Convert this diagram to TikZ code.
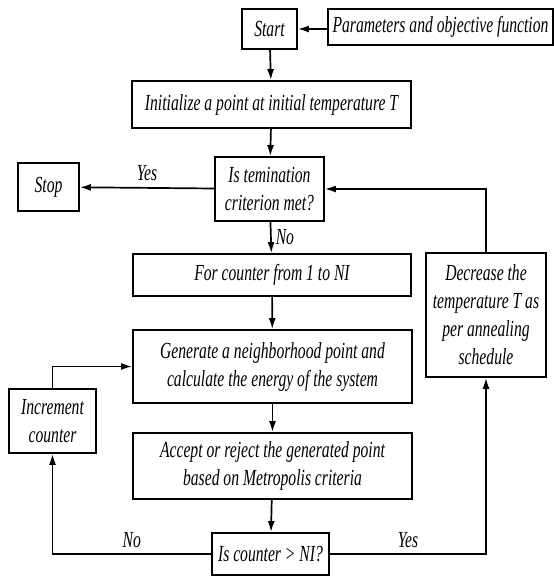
\documentclass[tikz,border=0pt]{standalone}
\usepackage{fontspec}
\setmainfont{Liberation Serif}[FakeStretch=0.68]
\usetikzlibrary{arrows.meta, positioning}

\begin{document}
\begin{tikzpicture}[x=1pt,y=1pt]
\tikzstyle{every node}+=[inner sep=0pt, font=\itshape\fontsize{23}{28}\selectfont]
\tikzstyle{block}=[draw, line width=1.7pt, align=center]
\tikzstyle{flow}=[line width=1.7pt, -{Latex[length=11pt,width=7pt]}]
\useasboundingbox (0,0) rectangle (554,-576);
% boxes
\node [block, minimum width=55, minimum height=40] (start) at (269.5,-29) {Start};
\node [block, minimum width=225, minimum height=36] (params) at (440.5,-27) {Parameters and objective function};
\node [block, minimum width=279, minimum height=47] (init) at (271.5,-104.5) {Initialize a point at initial temperature T};
\node [block, minimum width=109, minimum height=64] (term) at (269.5,-189) {Is temination\\criterion met?};
\node [block, minimum width=61, minimum height=48] (stop) at (48.5,-187) {Stop};
\node [block, minimum width=278, minimum height=42] (for) at (272,-275) {For counter from 1 to NI};
\node [block, minimum width=120, minimum height=124] (decrease) at (486,-315) {Decrease the\\temperature T as\\per annealing\\schedule};
\node [block, minimum width=279, minimum height=73] (gen) at (272.5,-366.5) {Generate a neighborhood point and\\calculate the energy of the system};
\node [block, minimum width=87, minimum height=64] (incr) at (52.5,-421) {Increment\\counter};
\node [block, minimum width=279, minimum height=66] (accept) at (272.5,-466) {Accept or reject the generated point\\based on Metropolis criteria};
\node [block, minimum width=117, minimum height=42] (check) at (270.5,-554) {Is counter > NI?};
% connectors
\draw [flow] (params.west |- start.east) -- (start.east);
\draw [flow] (start) -- (init);
\draw [flow] (init) -- (term);
\draw [flow] (term) -- node [above=6pt] (yes1) {Yes} (stop);
\draw [flow] (term) -- node [right=4pt] (no1) {No} (for);
\draw [flow] (for) -- (gen);
\draw [flow] (gen) -- (accept);
\draw [flow] (accept) -- (check);
\draw [flow] (check.west) -| node [pos=0.25, above=5pt] (no2) {No} (incr.south);
\draw [flow] (check.east) -| node [pos=0.25, above=5pt] (yes2) {Yes} (decrease.south);
\draw [flow] (incr.north) |- (gen.west);
\draw [flow] (decrease.north) |- (term.east);
\end{tikzpicture}
\end{document}
